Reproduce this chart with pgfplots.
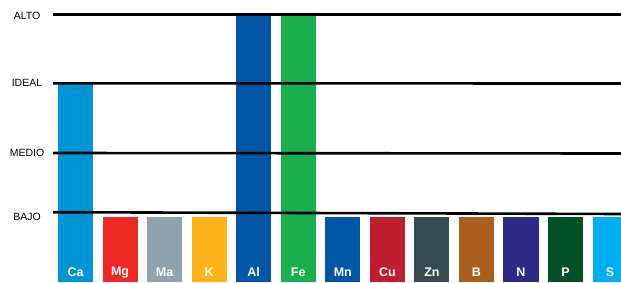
\documentclass[border=0pt]{standalone}
\usepackage{pgfplots}
\pgfplotsset{compat=1.18}
\usepackage{fontspec}
\setmainfont{Liberation Sans}
\definecolor{cCa}{RGB}{0,150,214}
\definecolor{cMg}{RGB}{236,40,36}
\definecolor{cMa}{RGB}{143,163,174}
\definecolor{cK}{RGB}{253,180,26}
\definecolor{cAl}{RGB}{0,85,165}
\definecolor{cFe}{RGB}{26,174,77}
\definecolor{cMn}{RGB}{0,85,165}
\definecolor{cCu}{RGB}{190,30,45}
\definecolor{cZn}{RGB}{52,75,82}
\definecolor{cB}{RGB}{170,94,31}
\definecolor{cN}{RGB}{46,42,133}
\definecolor{cP}{RGB}{0,81,40}
\definecolor{cS}{RGB}{0,174,239}
\begin{document}
\begin{tikzpicture}
\begin{axis}[
  scale only axis, width=621pt, height=282pt,
  xmin=-1.695, xmax=12.245, ymin=0, ymax=282,
  axis on top,
  axis line style={draw=none}, tick style={draw=none},
  ybar, bar width=0.786, bar shift=0pt,
  xtick={0,...,12},
  xticklabels={Ca,Mg,Ma,K,Al,Fe,Mn,Cu,Zn,B,N,P,S},
  xticklabel style={anchor=center, yshift=14pt, text=white, font=\fontsize{12.5}{13}\selectfont\bfseries},
  ytick={65,129,199,266},
  yticklabels={BAJO,MEDIO,IDEAL,ALTO},
  yticklabel style={anchor=center, xshift=27pt, font=\fontsize{10.5}{11}\selectfont},
  /pgf/number format/assume math mode=true,
]
\addplot[fill=cCa, draw=none] coordinates {(0,198)};
\addplot[fill=cMg, draw=none] coordinates {(1,65.3)};
\addplot[fill=cMa, draw=none] coordinates {(2,65.3)};
\addplot[fill=cK, draw=none] coordinates {(3,65.3)};
\addplot[fill=cAl, draw=none] coordinates {(4,268)};
\addplot[fill=cFe, draw=none] coordinates {(5,268)};
\addplot[fill=cMn, draw=none] coordinates {(6,65.3)};
\addplot[fill=cCu, draw=none] coordinates {(7,65.3)};
\addplot[fill=cZn, draw=none] coordinates {(8,65.3)};
\addplot[fill=cB, draw=none] coordinates {(9,65.3)};
\addplot[fill=cN, draw=none] coordinates {(10,65.3)};
\addplot[fill=cP, draw=none] coordinates {(11,65.3)};
\addplot[fill=cS, draw=none] coordinates {(12,65.3)};
\addplot[sharp plot, black, line width=2.6pt] coordinates {(-0.505,267.4) (12.245,267.4)};
\addplot[sharp plot, black, line width=2.6pt] coordinates {(-0.505,198.7) (12.245,198.5)};
\addplot[sharp plot, black, line width=2.6pt] coordinates {(-0.505,129) (12.245,128.5)};
\addplot[sharp plot, black, line width=2.6pt] coordinates {(-0.505,69.8) (12.245,68)};
\end{axis}
\pgfresetboundingbox
\path (current axis.south west) rectangle (current axis.north east);
\end{tikzpicture}
\end{document}
